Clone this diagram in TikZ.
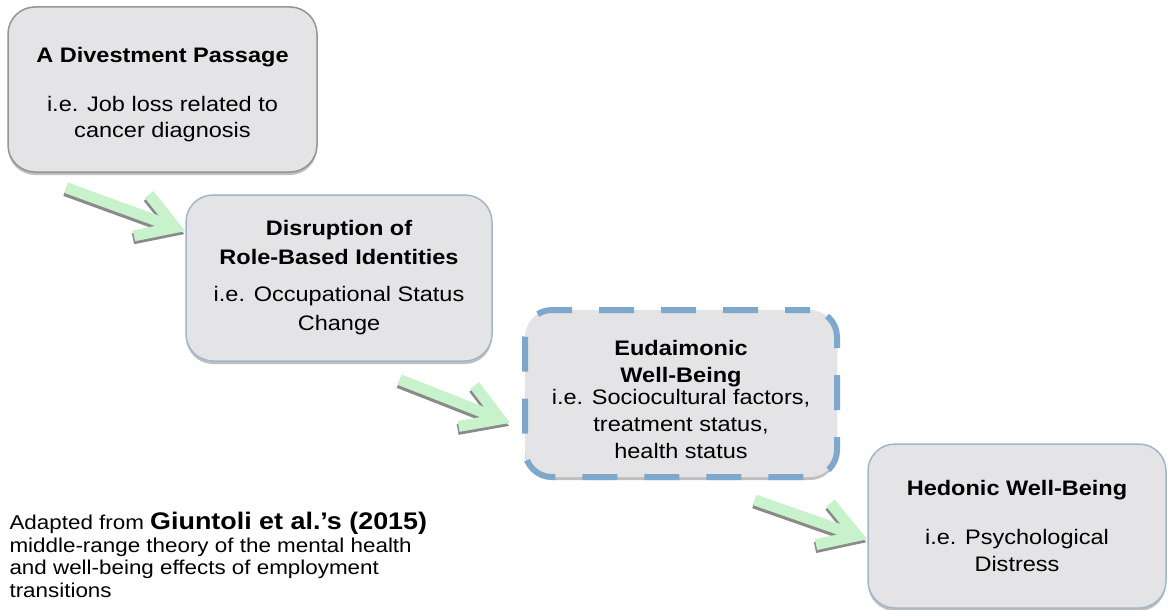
\documentclass[tikz,border=0pt]{standalone}
\usepackage{fontspec}
\setmainfont{Liberation Sans}[FakeStretch=1.12]
\usetikzlibrary{arrows.meta,shadows,calc}

\definecolor{boxfill}{HTML}{E4E4E6}
\definecolor{boxgray}{HTML}{949494}
\definecolor{boxblue}{HTML}{A2B6C8}
\definecolor{dashblue}{HTML}{7DA7CB}
\definecolor{arrowgreen}{HTML}{C8F2CB}

\begin{document}
\begin{tikzpicture}[x=1pt,y=-1pt]
\tikzstyle{stage}=[draw,shape=rectangle,rounded corners=27pt,fill=boxfill,line width=1.5pt,
  align=center,font=\fontsize{21}{27}\selectfont,
  drop shadow={shadow xshift=0pt,shadow yshift=-3pt,opacity=0.5}];
\tikzstyle{stagetext}=[align=center,font=\fontsize{21}{27}\selectfont];
\tikzstyle{arrowbase}=[line width=11pt,-{Straight Barb[length=36pt,width=44pt]}];
\tikzstyle{arrowshade}=[arrowbase,draw=black!65,opacity=0.7,transform canvas={shift={(-1pt,-3pt)}}];
\tikzstyle{arrowfront}=[arrowbase,draw=arrowgreen];

\useasboundingbox (0,0) rectangle (1168,610);

% the four stages
\node[stage,draw=boxgray,minimum width=309pt,minimum height=165pt] (divest) at (162.5,89.5) {};
\node[stagetext,font=\fontsize{21}{26}\selectfont] (divtext) at (162.5,95)
  {\textbf{A Divestment Passage}\\[23pt] i.e. Job loss related to\\ cancer diagnosis};
\node[stage,draw=boxblue,minimum width=306pt,minimum height=166pt,
  font=\fontsize{21}{29}\selectfont] (disrupt) at (339,278)
  {\textbf{Disruption of}\\ \textbf{Role-Based Identities}\\[8pt] i.e. Occupational Status\\ Change};
\node[stage,draw=dashblue,line width=6pt,dash pattern=on 35pt off 27pt,dash phase=10pt,
  minimum width=312pt,minimum height=167pt] (eudai) at (681,393.5) {};
\node[stagetext] (eudtitle) at (681,364) {\textbf{Eudaimonic}\\ \textbf{Well-Being}};
\node[stagetext] (eudbody) at (681,424) {i.e. Sociocultural factors,\\ treatment status,\\ health status};
\node[stage,draw=boxblue,minimum width=298pt,minimum height=164pt] (hedonic) at (1017,526)
  {\textbf{Hedonic Well-Being}\\[22pt] i.e. Psychological\\ Distress};

% source note
\node[align=left,anchor=north west,font=\fontsize{20}{22.5}\selectfont] (note) at (6,509)
  {Adapted from {\fontsize{24}{22.5}\selectfont\textbf{Giuntoli et al.'s (2015)}}\\
   middle-range theory of the mental health\\
   and well-being effects of employment\\
   transitions};

% arrows between stages
\coordinate (start1) at ($(divest.south west)+(59,15)$);
\coordinate (start2) at ($(disrupt.south east)+(-93,18)$);
\coordinate (start3) at ($(eudai.south east)+(-85,20)$);
\coordinate (end1) at ($(disrupt.north west)!0.22!(disrupt.south west)$);
\coordinate (end2) at ($(eudai.north west)!0.67!(eudai.south west)+(-12,0)$);
\coordinate (end3) at ($(hedonic.north west)!0.58!(hedonic.south west)$);
\draw[arrowshade] (start1) -- (end1);
\draw[arrowfront] (start1) -- (end1);
\draw[arrowshade] (start2) -- (end2);
\draw[arrowfront] (start2) -- (end2);
\draw[arrowshade] (start3) -- (end3);
\draw[arrowfront] (start3) -- (end3);
\end{tikzpicture}
\end{document}
